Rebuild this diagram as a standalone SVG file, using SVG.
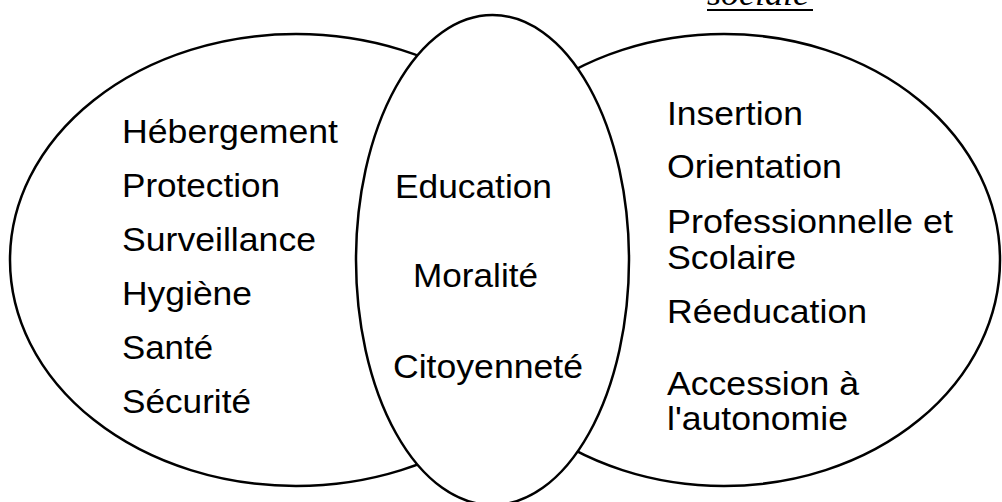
<svg xmlns="http://www.w3.org/2000/svg" width="1002" height="502" viewBox="0 0 1002 502">
<style>
.shape{fill:#fff;stroke:#000;stroke-width:2.5}
.t{font-family:"Liberation Sans",Arial,sans-serif;font-size:32.5px;fill:#000}
.s{font-family:"Liberation Serif","Times New Roman",serif;font-style:italic;font-size:34px;fill:#000}
</style>
<rect width="1002" height="502" fill="#fff"/>
<g id="title">
<text class="s" x="707" y="5" textLength="102" lengthAdjust="spacingAndGlyphs">sociale</text>
<line x1="707" y1="10" x2="813" y2="10" stroke="#000" stroke-width="2"/>
</g>
<g id="connectors"></g>
<g id="left">
<ellipse class="shape" cx="296" cy="260" rx="286" ry="226"/>
<text class="t" x="122" y="143" textLength="216" lengthAdjust="spacingAndGlyphs">Hébergement</text>
<text class="t" x="122" y="197" textLength="158" lengthAdjust="spacingAndGlyphs">Protection</text>
<text class="t" x="122" y="251" textLength="194" lengthAdjust="spacingAndGlyphs">Surveillance</text>
<text class="t" x="122" y="305" textLength="130" lengthAdjust="spacingAndGlyphs">Hygiène</text>
<text class="t" x="122" y="359" textLength="91" lengthAdjust="spacingAndGlyphs">Santé</text>
<text class="t" x="122" y="413" textLength="129" lengthAdjust="spacingAndGlyphs">Sécurité</text>
</g>
<g id="right">
<ellipse class="shape" cx="724" cy="260" rx="276" ry="226"/>
<text class="t" x="667" y="125" textLength="136" lengthAdjust="spacingAndGlyphs">Insertion</text>
<text class="t" x="667" y="178" textLength="175" lengthAdjust="spacingAndGlyphs">Orientation</text>
<text class="t" x="667" y="233" textLength="286" lengthAdjust="spacingAndGlyphs">Professionnelle et</text>
<text class="t" x="667" y="269" textLength="129" lengthAdjust="spacingAndGlyphs">Scolaire</text>
<text class="t" x="667" y="323" textLength="200" lengthAdjust="spacingAndGlyphs">Réeducation</text>
<text class="t" x="667" y="395" textLength="192" lengthAdjust="spacingAndGlyphs">Accession à</text>
<text class="t" x="667" y="430" textLength="181" lengthAdjust="spacingAndGlyphs">l'autonomie</text>
</g>
<g id="middle">
<ellipse class="shape" cx="492.5" cy="260" rx="136.5" ry="245"/>
<text class="t" x="395" y="198" textLength="157" lengthAdjust="spacingAndGlyphs">Education</text>
<text class="t" x="413" y="287" textLength="125" lengthAdjust="spacingAndGlyphs">Moralité</text>
<text class="t" x="393" y="378" textLength="190" lengthAdjust="spacingAndGlyphs">Citoyenneté</text>
</g>
</svg>
